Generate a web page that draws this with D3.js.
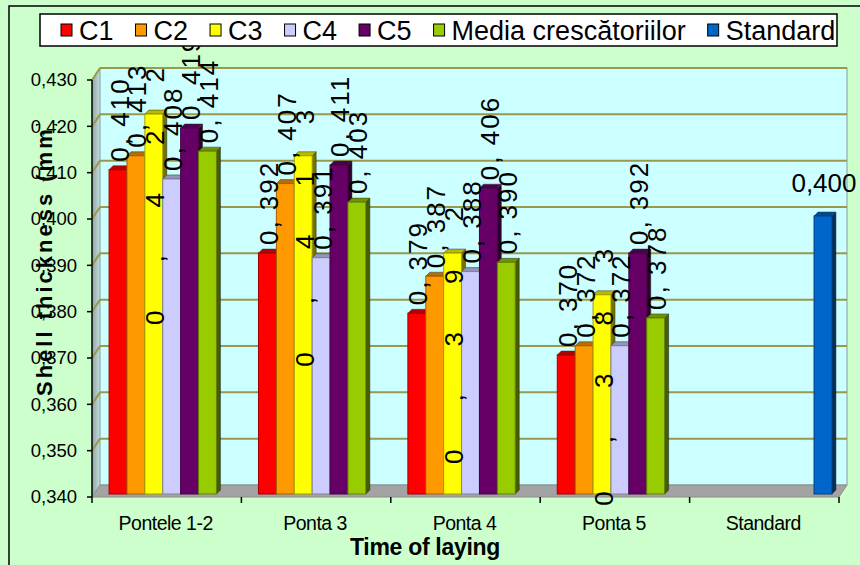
<!DOCTYPE html>
<html>
<head>
<meta charset="utf-8">
<script src="https://cdn.jsdelivr.net/npm/d3@7"></script>
<style>
  html, body { margin: 0; padding: 0; background: #ccffcc; }
  svg { display: block; }
  text { font-family: "Liberation Sans", Arimo, Arial, Helvetica, sans-serif; }
</style>
</head>
<body>
<svg id="chart" width="860" height="565" font-family="Liberation Sans, Arimo, Arial, sans-serif"></svg>
<script>
// Shell thickness by laying period, per breeder group
const categories = ["Pontele 1-2", "Ponta 3", "Ponta 4", "Ponta 5", "Standard"];
const seriesNames = ["C1", "C2", "C3", "C4", "C5", "Media crescătoriilor", "Standard"];
const c1Values = [0.410, 0.392, 0.379, 0.370, null];
const c2Values = [0.413, 0.407, 0.387, 0.372, null];
const c3Values = [0.422, 0.413, 0.392, 0.383, null];
const c4Values = [0.408, 0.391, 0.388, 0.372, null];
const c5Values = [0.419, 0.411, 0.406, 0.392, null];
const mediaValues = [0.414, 0.403, 0.390, 0.378, null];
const standardValues = [null, null, null, null, 0.400];
const seriesColors = ["#ff0000", "#ff9900", "#ffff00", "#ccccff", "#660066", "#99cc00", "#0066cc"];
const yTicks = [0.340, 0.350, 0.360, 0.370, 0.380, 0.390, 0.400, 0.410, 0.420, 0.430];
const yTitle = "Shell thickness (mm)";
const xTitle = "Time of laying";

const seriesValues = [c1Values, c2Values, c3Values, c4Values, c5Values, mediaValues, standardValues];

const svg = d3.select("#chart");
const FONT = "Liberation Sans, Arimo, Arial, sans-serif";

// outer chart frame
svg.append("rect").attr("x", 9).attr("y", 6).attr("width", 880).attr("height", 600)
  .attr("fill", "#ccffcc").attr("stroke", "#000").attr("stroke-width", 1.5);

const plotLeft = 92, plotRight = 839, plotTop = 80, plotBottom = 497;
const depth = { dx: 8, dy: -12 };      // back wall offset
const barShift = { dx: 5, dy: -3 };    // front face of bars
const barDepth = { dx: 4, dy: -4 };    // visible depth of a bar

const y = d3.scaleLinear().domain([0.340, 0.430]).range([plotBottom, plotTop]);
const x0 = d3.scaleBand().domain(categories).range([plotLeft, plotRight]).padding(0);
const x1 = d3.scaleBand().domain(seriesNames).range([0, x0.bandwidth()])
  .paddingInner(0).paddingOuter(0.675);

const fmt = d3.format(".3f");
const comma = v => fmt(v).replace(".", ",");

// side wall
const defs = svg.append("defs");
const sideGrad = defs.append("linearGradient").attr("id", "sideGrad")
  .attr("x1", "0").attr("x2", "1").attr("y1", "0").attr("y2", "0");
sideGrad.append("stop").attr("offset", "0").attr("stop-color", "#8fa3a3");
sideGrad.append("stop").attr("offset", "1").attr("stop-color", "#c4dede");

svg.append("polygon")
  .attr("points", [[plotLeft, plotTop], [plotLeft + depth.dx, plotTop + depth.dy], [plotLeft + depth.dx, plotBottom + depth.dy], [plotLeft, plotBottom]].join(" "))
  .attr("fill", "url(#sideGrad)");

// back wall
svg.append("rect")
  .attr("x", plotLeft + depth.dx).attr("y", plotTop + depth.dy)
  .attr("width", plotRight - plotLeft).attr("height", plotBottom - plotTop)
  .attr("fill", "#ccffff").attr("stroke", "#8a9a9a").attr("stroke-width", 1);

// floor
svg.append("polygon")
  .attr("points", [[plotLeft, plotBottom], [plotRight, plotBottom], [plotRight + depth.dx, plotBottom + depth.dy], [plotLeft + depth.dx, plotBottom + depth.dy]].join(" "))
  .attr("fill", "#a3a3a3").attr("stroke", "#8c8c8c").attr("stroke-width", 1);

// gridlines on the back and side walls
const grid = svg.append("g").attr("stroke", "#99994d").attr("stroke-width", 2).attr("fill", "none");
yTicks.filter(t => t > 0.340).forEach(t => {
  grid.append("line")
    .attr("x1", plotLeft + depth.dx).attr("x2", plotRight + depth.dx)
    .attr("y1", y(t) + depth.dy).attr("y2", y(t) + depth.dy);
  grid.append("line")
    .attr("x1", plotLeft).attr("x2", plotLeft + depth.dx)
    .attr("y1", y(t)).attr("y2", y(t) + depth.dy);
});

// bars
const w = x1.bandwidth();
const bars = svg.append("g");
seriesValues.forEach((vals, si) => {
  const base = d3.color(seriesColors[si]);
  vals.forEach((v, ci) => {
    if (v == null) return;
    const bx = x0(categories[ci]) + x1(seriesNames[si]) + barShift.dx;
    const by = y(v) + barShift.dy;
    const bb = plotBottom + barShift.dy;
    const g = bars.append("g");
    // right side face
    g.append("polygon")
      .attr("points", [[bx + w, by], [bx + w + barDepth.dx, by + barDepth.dy], [bx + w + barDepth.dx, bb + barDepth.dy], [bx + w, bb]].join(" "))
      .attr("fill", base.darker(2.2)).attr("stroke", "#222").attr("stroke-width", 0.5);
    // top cap
    g.append("polygon")
      .attr("points", [[bx, by], [bx + w, by], [bx + w + barDepth.dx, by + barDepth.dy], [bx + barDepth.dx, by + barDepth.dy]].join(" "))
      .attr("fill", base.darker(0.9)).attr("stroke", "#333").attr("stroke-width", 0.5);
    // front face
    g.append("rect").attr("x", bx).attr("y", by).attr("width", w).attr("height", bb - by)
      .attr("fill", base).attr("stroke", base.darker(1.3)).attr("stroke-width", 1);
  });
});

// value labels
const labels = svg.append("g").attr("fill", "#000").attr("font-family", FONT);
seriesValues.forEach((vals, si) => {
  vals.forEach((v, ci) => {
    if (v == null) return;
    const bx = x0(categories[ci]) + x1(seriesNames[si]) + barShift.dx;
    const cx = bx + w / 2 + 1;
    const topY = y(v) + barShift.dy + barDepth.dy;
    if (seriesNames[si] === "Standard") {
      labels.append("text").attr("x", cx).attr("y", topY - 20)
        .attr("text-anchor", "middle").attr("font-size", 26).text(comma(v));
    } else if (seriesNames[si] === "C3") {
      // widely spaced label running up through the bar
      labels.append("text")
        .attr("transform", `translate(${cx + 9.5},${topY + 215}) rotate(-90)`)
        .attr("font-size", 26).attr("letter-spacing", 48).text(comma(v));
    } else {
      labels.append("text")
        .attr("transform", `translate(${cx + 9.5},${topY - 4}) rotate(-90)`)
        .attr("font-size", 26).attr("letter-spacing", 2).text(comma(v).replace(",", ", "));
    }
  });
});

// y axis
const yAxis = svg.append("g").attr("font-family", FONT);
yAxis.append("line").attr("x1", plotLeft).attr("x2", plotLeft).attr("y1", plotTop).attr("y2", plotBottom)
  .attr("stroke", "#000").attr("stroke-width", 1.5);
yTicks.forEach(t => {
  yAxis.append("line").attr("x1", plotLeft - 5).attr("x2", plotLeft).attr("y1", y(t)).attr("y2", y(t))
    .attr("stroke", "#000").attr("stroke-width", 1.5);
  yAxis.append("text").attr("x", 77).attr("y", y(t)).attr("dy", "0.35em")
    .attr("text-anchor", "end").attr("font-size", 18.5).text(comma(t));
});

// x axis ticks and labels
const xAxis = svg.append("g").attr("font-family", FONT);
const bounds = categories.map(c => x0(c)).concat([plotRight]);
bounds.forEach(b => {
  xAxis.append("line").attr("x1", b).attr("x2", b).attr("y1", plotBottom).attr("y2", plotBottom + 6)
    .attr("stroke", "#000").attr("stroke-width", 1.5);
});
categories.forEach(c => {
  xAxis.append("text").attr("x", x0(c) + x0.bandwidth() / 2 - 1).attr("y", 530)
    .attr("text-anchor", "middle").attr("font-size", 19.5).attr("letter-spacing", -0.5).text(c);
});
svg.append("text").attr("x", 425).attr("y", 555).attr("text-anchor", "middle")
  .attr("font-family", FONT).attr("font-size", 23).attr("font-weight", "bold")
  .attr("letter-spacing", -0.3).text(xTitle);

// y axis title, clipped at its frame edge
defs.append("clipPath").attr("id", "yTitleClip")
  .append("rect").attr("x", 0).attr("y", 124).attr("width", 90).attr("height", 400);
svg.append("g").attr("clip-path", "url(#yTitleClip)")
  .append("text")
  .attr("transform", "translate(52,396) rotate(-90)")
  .attr("font-family", FONT)
  .attr("font-size", 22).attr("font-weight", "bold").attr("letter-spacing", 3)
  .text(yTitle);

// legend
const legend = svg.append("g").attr("font-family", FONT);
legend.append("rect").attr("x", 40).attr("y", 14).attr("width", 797).attr("height", 32)
  .attr("fill", "#fff").attr("stroke", "#000").attr("stroke-width", 1.5);
let lx = 61;
seriesNames.forEach((name, i) => {
  legend.append("rect").attr("x", lx).attr("y", 24).attr("width", 11).attr("height", 12)
    .attr("fill", seriesColors[i]).attr("stroke", "#000").attr("stroke-width", 1);
  const t = legend.append("text").attr("x", lx + 18).attr("y", 40)
    .attr("font-size", 27).text(name);
  lx += 18 + t.node().getComputedTextLength() + 22;
});
</script>
</body>
</html>
